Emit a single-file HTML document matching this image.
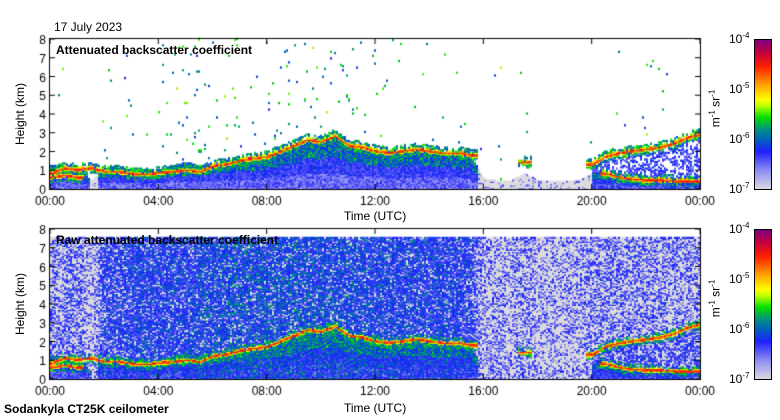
<!DOCTYPE html>
<html><head><meta charset="utf-8">
<style>
body{margin:0;background:#fff;width:780px;height:420px;overflow:hidden;position:relative;font-family:"Liberation Sans",sans-serif;color:#000}
.t{position:absolute;font-size:12px;white-space:nowrap}
canvas{position:absolute;left:0;top:0}
.cb{position:absolute;left:754px;width:16px;height:149px;border:1px solid #000;background:linear-gradient(to top,#d8d8e4 0%,#9090f0 12%,#2020ff 25%,#0060c0 33%,#009080 40%,#00e000 48%,#c0ff00 56%,#ffff00 60%,#ffa000 70%,#ff2000 82%,#c00040 92%,#800080 100%)}
sup{font-size:8px}
</style></head><body>
<canvas id="c" width="780" height="420"></canvas>
<div class="t" style="left:54px;top:20px">17 July 2023</div>
<div class="t" style="left:56px;top:43px;font-weight:bold">Attenuated backscatter coefficient</div>
<div class="t" style="left:56px;top:233px;font-weight:bold">Raw attenuated backscatter coefficient</div>
<div class="t" style="left:344px;top:209px">Time (UTC)</div>
<div class="t" style="left:344px;top:401px">Time (UTC)</div>
<div class="t" style="left:4px;top:402px;font-weight:bold">Sodankyla CT25K ceilometer</div>
<div class="t" style="left:-11px;top:107px;transform:rotate(-90deg)">Height (km)</div>
<div class="t" style="left:-11px;top:297px;transform:rotate(-90deg)">Height (km)</div>
<div class="cb" style="top:39px"></div>
<div class="cb" style="top:229px"></div>
<div id="cbl"></div>
<script>
// time slots every 30 min, 00:00..24:00 (49 values)
const cloudHeight=[0.8,1.1,1.0,1.1,0.9,0.9,0.8,0.75,0.85,0.9,1.0,0.9,1.2,1.3,1.5,1.6,1.7,2.0,2.3,2.6,2.5,2.8,2.3,2.2,2.0,1.9,2.0,2.1,2.0,1.9,1.9,1.8,null,null,null,1.4,null,null,null,null,1.3,1.7,1.9,2.0,2.1,2.2,2.4,2.7,2.9];
const lowCloud=[0.6,0.7,0.6,null,null,null,null,null,null,null,null,null,null,null,null,null,null,null,null,null,null,null,null,null,null,null,null,null,null,null,null,null,null,null,null,null,null,null,null,null,null,0.8,0.6,0.5,0.45,0.45,0.4,0.4,0.4];
const blHeight=[1.2,1.2,1.2,0.4,1.1,1.1,1.0,0.9,1.0,1.2,1.4,1.2,1.3,1.5,1.6,1.6,1.8,2.0,2.3,2.6,2.6,2.8,2.3,2.3,2.0,1.9,2.0,2.1,2.0,1.9,1.9,1.8,0.5,0.4,0.4,0.8,0.4,0.4,0.4,0.4,0.8,0.9,0.7,0.6,0.5,0.5,0.45,0.45,0.45];
const speckle=[0.003,0.003,0.003,0.0,0.006,0.004,0.006,0.006,0.008,0.012,0.02,0.01,0.01,0.012,0.012,0.012,0.015,0.018,0.015,0.015,0.012,0.012,0.01,0.01,0.008,0.006,0.006,0.006,0.006,0.005,0.004,0.004,0.003,0.003,0.0,0.003,0.0,0.0,0.0,0.0,0.003,0.003,0.003,0.003,0.003,0.003,0.0,0.0,0.0];
const rawNoise=[0.12,0.15,0.15,0.0,0.3,0.3,0.35,0.35,0.35,0.35,0.35,0.45,0.45,0.5,0.5,0.5,0.5,0.5,0.5,0.48,0.45,0.45,0.45,0.42,0.4,0.4,0.38,0.38,0.38,0.36,0.35,0.3,0.05,0.08,0.05,0.12,0.03,0.03,0.03,0.05,0.12,0.12,0.12,0.12,0.12,0.11,0.11,0.1,0.1];
const hourTicks=["00:00","04:00","08:00","12:00","16:00","20:00","00:00"];
const kmTicks=[0,1,2,3,4,5,6,7,8];
const cbTicks=["-7","-6","-5","-4"];

const X0=50,X1=700,panels=[{top:39,bot:189,raw:false},{top:229,bot:379,raw:true}];
const cv=document.getElementById('c'),g=cv.getContext('2d');
function xs(h){return X0+(X1-X0)*h/24;}
function ys(p,km){return p.bot-(p.bot-p.top)*km/8;}
function interp(a,t){const i=Math.floor(t*2),f=t*2-i;const v0=a[Math.min(i,48)],v1=a[Math.min(i+1,48)];if(v0==null)return v1==null?null:(f>0.5?v1:null);if(v1==null)return f<0.5?v0:null;return v0+(v1-v0)*f;}
let seed=12345;function rnd(){seed=(seed*1103515245+12345)&0x7fffffff;return seed/0x7fffffff;}
const stops=[[0,220,220,220],[0.04,214,214,230],[0.12,144,144,240],[0.25,32,32,255],[0.33,0,96,192],[0.4,0,144,128],[0.48,0,224,0],[0.56,192,255,0],[0.6,255,255,0],[0.7,255,160,0],[0.82,255,32,0],[0.92,192,0,64],[1,128,0,128]];
function col(v){v=Math.max(0,Math.min(1,v));for(let i=1;i<stops.length;i++){if(v<=stops[i][0]){const a=stops[i-1],b=stops[i],f=(v-a[0])/(b[0]-a[0]);return `rgb(${a[1]+(b[1]-a[1])*f|0},${a[2]+(b[2]-a[2])*f|0},${a[3]+(b[3]-a[3])*f|0})`;}}return 'rgb(128,0,128)';}
const dx=2,dkm=0.07;
panels.forEach(p=>{
  for(let x=X0;x<X1;x+=dx){
    const t=(x-X0)/(X1-X0)*24;
    const ch=interp(cloudHeight,t),lc=interp(lowCloud,t),bl=interp(blHeight,t),sp=interp(speckle,t),rn=interp(rawNoise,t);
    const gray=(t>15.8&&t<20)||(t>1.45&&t<1.7);
    const pg=0.12+Math.max(0,0.35-rn)*1.5;
    for(let z=0;z<(p.raw?7.5:8);z+=dkm){
      let v=null;
      if(p.raw){ v = (rnd()<pg) ? 0 : 0.1+rnd()*0.17+rn*0.38*rnd(); }
      if(z<bl){ let b;
        if(gray) b=rnd()<0.8?0:0.1+rnd()*0.12;
        else { const fz=z/bl; b=(fz<0.3?0.1:0.16)+rnd()*0.14+(fz>0.6?rnd()*0.22:0); }
        v=v==null?b:Math.max(v,b);}
      else if(!p.raw&&rnd()<sp) v=0.25+rnd()*0.3;
      [ch,lc].forEach(h=>{if(h==null)return;const d=Math.abs(z-h);let c=null;
        if(d<0.05)c=0.76+rnd()*0.1;else if(d<0.12&&rnd()<0.8)c=0.5+rnd()*0.2;else if(d<0.3&&rnd()<0.5)c=0.3+rnd()*0.2;
        else if(t>20&&z<h&&rnd()<0.35)c=0.15+rnd()*0.15;
        if(c!=null)v=v==null?c:Math.max(v,c);});
      if(v==null)continue;
      g.fillStyle=col(v);g.fillRect(x,ys(p,z+dkm)-0.5,dx,(p.bot-p.top)*dkm/8+1);
    }
  }
  g.fillStyle='#fff';g.fillRect(X0,p.bot,X1-X0+2,2);
  g.strokeStyle='#000';g.lineWidth=1;g.strokeRect(X0-0.5,p.top-0.5,X1-X0+1,p.bot-p.top+1);
  g.font='12px "Liberation Sans",sans-serif';g.fillStyle='#000';
  hourTicks.forEach((s,i)=>{const x=xs(i*4);g.beginPath();g.moveTo(x,p.bot);g.lineTo(x,p.bot-5);g.moveTo(x,p.top);g.lineTo(x,p.top+5);g.stroke();g.textAlign='center';g.fillText(s,x,p.bot+16);});
  kmTicks.forEach(k=>{const y=ys(p,k);g.beginPath();g.moveTo(X0,y);g.lineTo(X0+5,y);g.moveTo(X1,y);g.lineTo(X1-5,y);g.stroke();g.textAlign='right';g.fillText(String(k),X0-4,y+5);});
});
const cbl=document.getElementById('cbl');
panels.forEach((p,pi)=>{
  cbTicks.forEach((e,i)=>{const d=document.createElement('div');d.className='t';
    
    
    d.style.left='729px';d.style.top=(p.bot-8-i*(p.bot-p.top)/3)+'px';d.innerHTML='10<sup>'+e.replace('-','&#8209;')+'</sup>';cbl.appendChild(d);});
  const u=document.createElement('div');u.className='t';
  
  
  u.style.left='696px';u.style.top=(p.top+62)+'px';u.style.transform='rotate(-90deg)';u.innerHTML='m<sup>-1</sup> sr<sup>-1</sup>';cbl.appendChild(u);
});
</script>
</body></html>
